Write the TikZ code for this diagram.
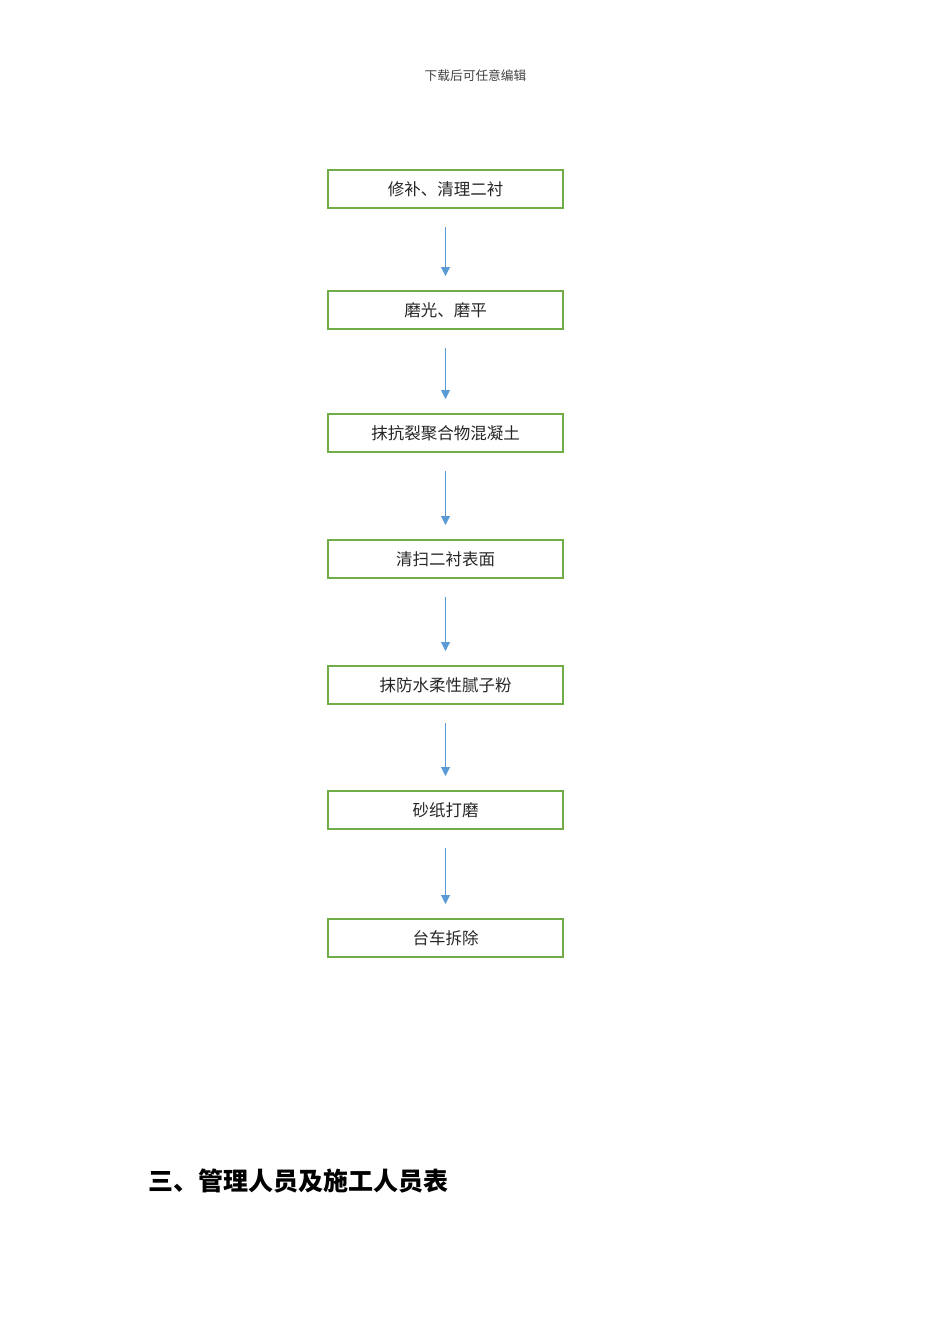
\documentclass[tikz,border=0pt]{standalone}
\usepackage{fontspec}
\newfontfamily\cjk{Noto Sans CJK SC}
\usepackage{xcolor}
\usepackage{tikz}
\usetikzlibrary{arrows.meta, positioning}
\definecolor{boxgreen}{HTML}{70AD47}
\definecolor{arrowblue}{HTML}{5B9BD5}
\tikzset{
  stepbox/.style={draw=boxgreen, line width=2pt, minimum width=235pt, minimum height=38pt, inner sep=0pt, font=\cjk\fontsize{16.5}{19}\selectfont, text=black!85},
  flow/.style={-{Triangle[length=9pt, width=9pt]}, draw=arrowblue, fill=arrowblue, line width=1pt, shorten <=18pt, shorten >=14pt}
}
\begin{document}
\begin{tikzpicture}[x=1pt, y=-1pt]
            \useasboundingbox (0,0) rectangle (950,1344);
            \node[font=\cjk\fontsize{12.7}{15}\selectfont, text=black!75] at (475.5, 76) (header) {下载后可任意编辑};

            \node[stepbox] at (445.5, 189)   (s1) {修补、清理二衬};
            \node[stepbox] at (445.5, 310)   (s2) {磨光、磨平};
            \node[stepbox] at (445.5, 433)   (s3) {抹抗裂聚合物混凝土};
            \node[stepbox] at (445.5, 559)   (s4) {清扫二衬表面};
            \node[stepbox] at (445.5, 685)   (s5) {抹防水柔性腻子粉};
            \node[stepbox] at (445.5, 810)   (s6) {砂纸打磨};
            \node[stepbox] at (445.5, 938)   (s7) {台车拆除};

            \draw [flow] (s1) -- (s2);
            \draw [flow] (s2) -- (s3);
            \draw [flow] (s3) -- (s4);
            \draw [flow] (s4) -- (s5);
            \draw [flow] (s5) -- (s6);
            \draw [flow] (s6) -- (s7);

            \node[anchor=west, font=\cjk\bfseries\fontsize{25}{28}\selectfont] at (145, 1181) (title) {三、管理人员及施工人员表};
        \end{tikzpicture}
\end{document}
